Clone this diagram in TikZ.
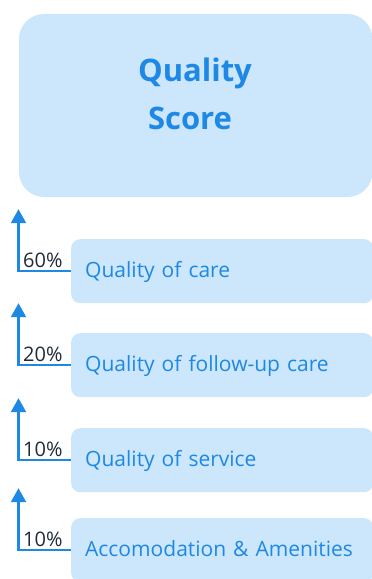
\documentclass[tikz,border=0pt]{standalone}
\usepackage{fontspec}
\setmainfont{Open Sans}
\usetikzlibrary{arrows.meta,calc}
\definecolor{boxfill}{HTML}{CCE6FB}
\definecolor{mainblue}{HTML}{1E88E5}
\definecolor{darktext}{HTML}{1F2B38}
\begin{document}
\begin{tikzpicture}[x=1pt,y=1pt,
  bigbox/.style={fill=boxfill, rounded corners=25pt, draw=none},
  itembox/.style={fill=boxfill, rounded corners=9pt, draw=none, anchor=north west,
    minimum width=302pt, minimum height=64pt, text width=274pt, inner xsep=14pt,
    align=left, text height=17pt, text depth=4pt, font=\fontsize{21}{25}\selectfont,
    text=mainblue},
  titletext/.style={font=\fontsize{31}{36}\selectfont\bfseries, text=mainblue, anchor=base, inner sep=0pt},
  pct/.style={font=\fontsize{20}{24}\selectfont, text=darktext, anchor=base west, inner sep=0pt},
  arr/.style={draw=mainblue, line width=2.2pt, -{Triangle[width=15pt,length=14pt]}}
]
\useasboundingbox (0,0) rectangle (372,579);
\clip (0,0) rectangle (372,579);
\fill[bigbox] (19,382) rectangle (372.5,565);
\node[titletext] (q1) at (195,497) {Quality};
\node[titletext] (q2) at (190,449) {Score};

\node[itembox] (b1) at (71,340) {Quality of care};
\node[itembox] (b2) at (71,246) {Quality of follow-up care};
\node[itembox] (b3) at (71,151) {Quality of service};
\node[itembox] (b4) at (71,61) {Accomodation \& Amenities};

\foreach \i/\p in {1/60,2/20,3/10,4/10}{
  \coordinate (t\i) at ($(b\i.west)+(-52.5,62)$);
  \draw[arr] (b\i.west) -| (t\i);
  \node[pct] (p\i) at ($(b\i.west)+(-48,4)$) {\p\%};
}
\end{tikzpicture}
\end{document}
